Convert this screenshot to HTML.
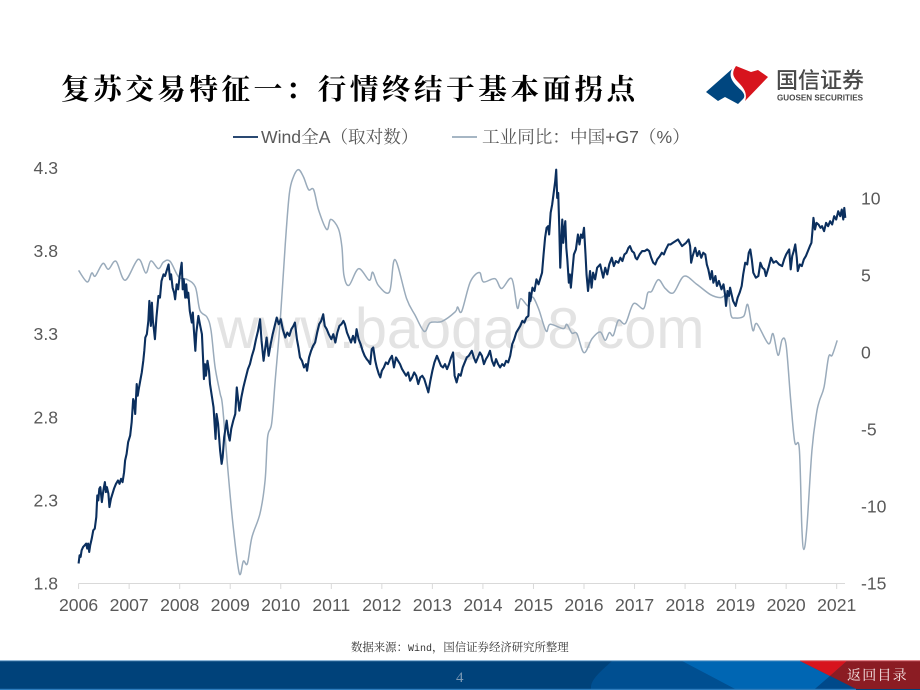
<!DOCTYPE html>
<html lang="zh-CN">
<head>
<meta charset="utf-8">
<title>复苏交易特征一：行情终结于基本面拐点</title>
<style>
html,body{margin:0;padding:0;background:#fff;}
#slide{position:relative;width:920px;height:690px;overflow:hidden;background:#fff;font-family:"Liberation Sans","Noto Serif CJK SC",serif;}
#slide>*{position:absolute;}
.title{left:61px;top:68px;font:700 28.6px/40px "Noto Serif CJK SC",serif;letter-spacing:3.5px;color:#000;white-space:nowrap;}
.source{left:351px;top:639px;font:11.4px/16px "Noto Serif CJK SC",serif;color:#333;white-space:nowrap;}
.source span{font:10px/16px "Liberation Mono",monospace;}
.page{left:456px;top:669px;font:15px/18px "Liberation Serif",serif;color:#7d9ab5;}
.back{left:847px;top:665px;font:14px/20px "Noto Serif CJK SC",serif;letter-spacing:1.2px;color:#f6e9e9;white-space:nowrap;}
</style>
</head>
<body>
<div id="slide">
  <div class="title">复苏交易特征一：行情终结于基本面拐点</div>

  <svg style="left:0;top:0" width="920" height="690">
    <path d="M706 92L732 69C728 77 733 83 741 90C745 94 745 97 743 99L738 104L725 97L718 101Z" fill="#00467f"/>
    <path d="M736 66L751 72L758 70L768 77L745 101C748 93 743 87 738 82C732 76 732 72 736 66Z" fill="#d7141d"/>
    <text x="776" y="88" font-family="'Noto Sans CJK SC',sans-serif" font-size="22" font-weight="500" fill="#4a4a4a">国信证券</text>
    <text x="777" y="100.5" font-family="'Liberation Sans',sans-serif" font-size="8.1" font-weight="700" fill="#4a4a4a" textLength="86">GUOSEN SECURITIES</text>
  </svg>

  <svg id="chart" style="left:0;top:0" width="920" height="690"></svg>

  <div class="source">数据来源：<span>Wind</span>，国信证券经济研究所整理</div>

  <svg style="left:0;top:660px" width="920" height="30">
    <rect x="0" y="0" width="920" height="30" fill="#00427a"/>
    <path d="M612 1C600 12 590 20 591 29L735 29L682 1Z" fill="#004f91"/>
    <path d="M682 1L800 1L830 16L815 29L735 29Z" fill="#0066b3"/>
    <path d="M800 1L847 1L830 16Z" fill="#d7141d"/>
    <path d="M847 1L920 1L920 29L856 29L830 16Z" fill="#8b1c23"/>
    <path d="M830 16L815 29L856 29Z" fill="#00498a"/>
    <rect x="0" y="0" width="800" height="1.2" fill="#8fb7d8"/>
    <rect x="800" y="0" width="120" height="1.2" fill="#e2868b"/>
    <rect x="0" y="28.8" width="856" height="1.2" fill="#2f7dbd"/>
  </svg>
  <div class="page">4</div>
  <div class="back">返回目录</div>
</div>

<script>
const yearLabels = [2006,2007,2008,2009,2010,2011,2012,2013,2014,2015,2016,2017,2018,2019,2020,2021];
const leftTicks = [1.8,2.3,2.8,3.3,3.8,4.3];
const rightTicks = [-15,-10,-5,0,5,10];
const seriesNames = ["Wind全A（取对数）","工业同比：中国+G7（%）"];

// Wind All-A (log): time in years since Jan 2006
const windTime = [
0,.02,.04,.06,.09,.12,.15,.17,.19,.21,
.23,.26,.29,.32,.35,.37,.39,.41,.43,.46,
.49,.52,.54,.56,.59,.61,.64,.66,.70,.74,
.78,.81,.84,.87,.90,.92,.95,.98,1.02,1.05,
1.08,1.10,1.12,1.15,1.17,1.19,1.22,1.25,1.28,1.30,
1.32,1.35,1.38,1.40,1.43,1.45,1.47,1.49,1.51,1.54,
1.58,1.61,1.64,1.68,1.71,1.74,1.78,1.81,1.83,1.86,
1.89,1.91,1.94,1.97,2.00,2.04,2.06,2.08,2.11,2.13,
2.15,2.17,2.20,2.24,2.26,2.28,2.31,2.33,2.37,2.40,
2.44,2.46,2.48,2.50,2.52,2.55,2.58,2.60,2.64,2.67,
2.71,2.73,2.76,2.80,2.83,2.85,2.88,2.93,2.96,2.99,
3.02,3.06,3.10,3.13,3.18,3.22,3.26,3.30,3.35,3.39,
3.43,3.47,3.51,3.55,3.59,3.62,3.66,3.69,3.72,3.76,
3.80,3.84,3.88,3.92,3.96,4.00,4.04,4.09,4.13,4.17,
4.21,4.25,4.28,4.32,4.35,4.38,4.42,4.46,4.50,4.52,
4.56,4.60,4.64,4.68,4.72,4.76,4.80,4.84,4.87,4.91,
4.95,5.00,5.04,5.08,5.12,5.16,5.20,5.24,5.27,5.31,
5.35,5.39,5.43,5.47,5.50,5.54,5.58,5.62,5.66,5.70,
5.73,5.77,5.80,5.83,5.87,5.90,5.94,5.97,6.00,6.04,
6.08,6.12,6.16,6.20,6.24,6.28,6.32,6.36,6.40,6.44,
6.48,6.52,6.56,6.60,6.64,6.68,6.72,6.76,6.80,6.84,
6.88,6.92,6.96,7.00,7.04,7.09,7.13,7.17,7.21,7.25,
7.29,7.33,7.37,7.41,7.44,7.48,7.52,7.56,7.60,7.64,
7.68,7.72,7.78,7.82,7.86,7.90,7.94,7.98,8.02,8.06,
8.10,8.14,8.18,8.22,8.26,8.30,8.34,8.38,8.42,8.46,
8.50,8.54,8.58,8.62,8.66,8.70,8.74,8.78,8.82,8.86,
8.90,8.92,8.94,8.98,9.02,9.06,9.10,9.14,9.17,9.20,
9.23,9.26,9.29,9.31,9.34,9.37,9.40,9.43,9.45,9.47,
9.49,9.51,9.53,9.55,9.57,9.59,9.61,9.63,9.65,9.67,
9.70,9.72,9.74,9.77,9.80,9.84,9.88,9.91,9.94,9.97,
10.0,10.03,10.05,10.08,10.12,10.15,10.18,10.22,10.26,10.32,
10.38,10.42,10.46,10.50,10.55,10.59,10.63,10.68,10.72,10.76,
10.80,10.84,10.88,10.91,10.95,10.99,11.02,11.05,11.10,11.15,
11.20,11.25,11.29,11.33,11.37,11.41,11.45,11.50,11.54,11.58,
11.62,11.67,11.71,11.76,11.81,11.86,11.90,11.94,11.98,12.02,
12.07,12.10,12.12,12.15,12.20,12.24,12.28,12.32,12.36,12.40,
12.43,12.46,12.50,12.53,12.56,12.60,12.63,12.67,12.72,12.76,
12.79,12.81,12.84,12.87,12.89,12.92,12.95,13.00,13.04,13.08,
13.12,13.15,13.19,13.23,13.26,13.29,13.32,13.35,13.40,13.45,
13.49,13.53,13.57,13.60,13.65,13.70,13.75,13.80,13.86,13.92,
13.96,14.00,14.04,14.06,14.09,14.12,14.15,14.18,14.21,14.23,
14.27,14.31,14.35,14.39,14.43,14.47,14.50,14.52,14.54,14.57,
14.60,14.64,14.68,14.71,14.75,14.79,14.83,14.87,14.91,14.95,
14.99,15.03,15.07,15.10,15.13,15.15,15.17];

const windValues = [
1.92,1.97,1.96,2.00,2.02,2.03,2.04,2.01,2.04,1.99,
2.03,2.07,2.12,2.13,2.20,2.33,2.30,2.37,2.38,2.29,
2.36,2.41,2.35,2.38,2.34,2.26,2.31,2.33,2.37,2.40,
2.42,2.40,2.43,2.41,2.47,2.54,2.58,2.65,2.69,2.77,
2.91,2.89,2.82,3.00,2.93,2.97,3.02,3.07,3.14,3.20,
3.28,3.30,3.38,3.50,3.35,3.49,3.38,3.33,3.27,3.40,
3.53,3.52,3.62,3.66,3.65,3.68,3.72,3.63,3.66,3.58,
3.55,3.51,3.60,3.57,3.65,3.73,3.57,3.63,3.52,3.60,
3.52,3.55,3.44,3.37,3.43,3.33,3.20,3.31,3.41,3.36,
3.30,3.17,3.03,3.12,3.05,3.14,3.08,3.00,2.92,2.86,
2.67,2.82,2.76,2.60,2.52,2.56,2.68,2.78,2.70,2.66,
2.73,2.78,2.82,2.98,2.84,2.92,2.98,3.03,3.09,3.12,
3.17,3.21,3.27,3.32,3.39,3.26,3.14,3.21,3.28,3.17,
3.24,3.30,3.35,3.40,3.36,3.39,3.33,3.28,3.31,3.29,
3.33,3.35,3.37,3.27,3.22,3.16,3.14,3.10,3.12,3.08,
3.16,3.20,3.23,3.25,3.31,3.36,3.38,3.42,3.35,3.33,
3.30,3.27,3.30,3.25,3.31,3.35,3.36,3.38,3.36,3.31,
3.28,3.25,3.29,3.25,3.33,3.27,3.24,3.20,3.17,3.15,
3.14,3.12,3.21,3.22,3.14,3.10,3.06,3.04,3.08,3.10,
3.13,3.12,3.15,3.17,3.10,3.16,3.14,3.12,3.09,3.07,
3.05,3.07,3.02,3.04,3.07,3.05,3.00,3.04,3.05,3.03,
2.99,2.95,3.02,3.08,3.13,3.17,3.14,3.11,3.10,3.12,
3.09,3.12,3.16,3.19,3.05,3.01,3.06,3.05,3.10,3.13,
3.16,3.17,3.20,3.16,3.13,3.16,3.19,3.17,3.12,3.15,
3.17,3.20,3.14,3.11,3.15,3.12,3.10,3.12,3.11,3.14,
3.13,3.17,3.24,3.27,3.31,3.33,3.35,3.38,3.37,3.40,
3.41,3.55,3.50,3.58,3.56,3.63,3.60,3.64,3.67,3.78,
3.88,3.94,3.95,3.90,4.03,4.08,4.15,4.22,4.29,4.12,
4.15,3.95,3.70,3.85,3.99,3.85,3.93,3.98,3.82,3.75,
3.61,3.66,3.58,3.68,3.78,3.81,3.90,3.84,3.90,3.88,
3.94,3.78,3.66,3.56,3.68,3.58,3.67,3.63,3.70,3.72,
3.64,3.70,3.66,3.72,3.76,3.71,3.74,3.73,3.76,3.74,
3.78,3.79,3.82,3.83,3.80,3.79,3.76,3.75,3.78,3.80,
3.80,3.81,3.80,3.76,3.73,3.72,3.75,3.77,3.79,3.78,
3.81,3.84,3.84,3.85,3.86,3.87,3.85,3.83,3.84,3.85,
3.87,3.83,3.73,3.77,3.82,3.77,3.80,3.76,3.79,3.78,
3.72,3.69,3.63,3.68,3.61,3.65,3.59,3.62,3.57,3.60,
3.54,3.47,3.56,3.53,3.58,3.54,3.50,3.47,3.52,3.55,
3.59,3.66,3.73,3.72,3.79,3.81,3.75,3.67,3.64,3.65,
3.73,3.70,3.69,3.65,3.70,3.76,3.73,3.74,3.72,3.71,
3.75,3.78,3.80,3.81,3.69,3.77,3.80,3.84,3.76,3.68,
3.72,3.71,3.75,3.77,3.80,3.83,3.85,3.92,4.00,3.93,
3.97,3.96,3.94,3.95,3.92,3.97,3.95,3.98,3.96,4.01,
3.99,4.04,4.01,4.05,3.99,4.06,4.00];

// Industrial production YoY, China + G7: time in years since Jan 2006
const industryTime = [
0,.17,.26,.33,.48,.59,.74,.92,1.18,1.33,
1.43,1.58,1.68,1.81,1.98,2.14,2.31,2.40,2.54,2.62,
2.70,2.80,2.85,2.96,3.06,3.18,3.26,3.34,3.43,3.59,
3.69,3.74,3.82,3.89,3.99,4.09,4.17,4.25,4.35,4.45,
4.55,4.65,4.75,4.91,4.99,5.14,5.21,5.25,5.35,5.54,
5.75,5.82,5.93,6.15,6.26,6.49,6.66,6.84,6.96,7.19,
7.45,7.50,7.58,7.75,7.93,8.01,8.24,8.37,8.57,8.68,
8.75,8.90,8.98,9.10,9.25,9.33,9.59,9.66,9.76,9.86,
10.0,10.16,10.32,10.42,10.50,10.58,10.68,10.82,10.98,11.18,
11.26,11.34,11.47,11.61,11.77,11.98,12.23,12.50,12.70,12.85,
12.91,12.99,13.16,13.24,13.34,13.42,13.65,13.74,13.84,13.92,
14.0,14.09,14.17,14.26,14.31,14.35,14.41,14.51,14.60,14.66,
14.75,14.84,14.91,15.01];

const industryValues = [
5.32,4.57,5.15,4.95,5.77,5.39,5.91,4.68,6.04,5.15,
5.93,5.43,5.86,5.91,4.89,4.74,4.24,2.73,2.29,1.43,
-0.95,-2.66,-3.55,-7.86,-11.34,-14.35,-13.55,-13.70,-11.99,-10.45,
-8.31,-5.50,-4.61,-1.82,2.08,7.06,10.30,11.38,11.86,11.38,
10.56,10.56,9.22,7.97,8.63,8.03,6.84,5.00,4.35,5.43,
4.68,5.20,4.35,3.92,6.02,3.49,2.40,1.36,1.93,2.01,
2.62,2.94,2.66,4.57,5.18,4.57,4.78,4.14,4.78,2.88,
3.49,3.00,3.59,2.84,1.38,1.82,1.54,1.82,1.25,1.21,
-0.02,0.89,1.32,0.78,1.28,1.10,2.08,1.88,3.16,2.84,
3.85,3.96,4.72,4.14,3.87,4.94,4.42,3.75,3.55,3.70,
2.40,2.23,2.34,3.10,1.43,1.86,0.56,1.21,-0.19,0.82,
0.45,-3.12,-5.82,-6.26,-11.34,-12.79,-11.34,-6.36,-3.98,-3.12,
-2.25,-0.30,-0.19,0.78];

const NS = 'http://www.w3.org/2000/svg';
const svg = document.getElementById('chart');

function xScale(t){ return 78.6 + t * 50.54; }
function yLeft(v){ return 583.5 - (v - 1.8) * 166.2; }
function yRight(v){ return 583.5 - (v + 15) * 15.41; }

function make(tag, attrs, parent){
  const el = document.createElementNS(NS, tag);
  for (const k in attrs) el.setAttribute(k, attrs[k]);
  (parent || svg).appendChild(el);
  return el;
}
const LATIN = '"Liberation Sans",sans-serif';
const CJK = '"Noto Serif CJK SC",serif';
const INK = '#595959';

// watermark
const wm = make('text', {x:217, y:348, 'font-family':LATIN, 'font-size':57.7, fill:'#e3e3e3'});


wm.textContent = 'www.baogao8.com';

// x axis
const axisLine = make('line', {x1:78.6, x2:845, y1:583.5, y2:583.5, stroke:'#d9d9d9', 'stroke-width':1});


yearLabels.forEach(function(year){
  const px = xScale(year - yearLabels[0]);
  const tick = make('line', {x1:px, x2:px, y1:583.5, y2:589, stroke:'#d9d9d9', 'stroke-width':1});
  
  
  const label = make('text', {x:px, y:611, 'text-anchor':'middle', 'font-family':LATIN, 'font-size':17.6, fill:INK});
  
  
  label.textContent = year;
});

// y axes
leftTicks.forEach(function(v){
  const label = make('text', {x:58, y:yLeft(v) + 6, 'text-anchor':'end', 'font-family':LATIN, 'font-size':17.6, fill:INK});
  
  
  label.textContent = v.toFixed(1);
});
rightTicks.forEach(function(v){
  const label = make('text', {x:861, y:yRight(v) + 6, 'font-family':LATIN, 'font-size':17.6, fill:INK});
  
  
  label.textContent = v;
});

// smooth curve through the industry points (Catmull-Rom)
function smoothPath(pts){
  let d = 'M' + pts[0][0].toFixed(2) + ' ' + pts[0][1].toFixed(2);
  for (let i = 0; i < pts.length - 1; i++){
    const p0 = pts[Math.max(i - 1, 0)], p1 = pts[i], p2 = pts[i + 1], p3 = pts[Math.min(i + 2, pts.length - 1)];
    const c1x = p1[0] + (p2[0] - p0[0]) / 6, c1y = p1[1] + (p2[1] - p0[1]) / 6;
    const c2x = p2[0] - (p3[0] - p1[0]) / 6, c2y = p2[1] - (p3[1] - p1[1]) / 6;
    d += 'C' + c1x.toFixed(2) + ' ' + c1y.toFixed(2) + ' ' + c2x.toFixed(2) + ' ' + c2y.toFixed(2) + ' ' + p2[0].toFixed(2) + ' ' + p2[1].toFixed(2);
  }
  return d;
}

const industryPts = industryTime.map(function(t, i){ return [xScale(t), yRight(industryValues[i])]; });
const industryLine = make('path', {d:smoothPath(industryPts), fill:'none', stroke:'#9aabbb', 'stroke-width':1.5, 'stroke-linejoin':'round'});



const windPts = windTime.map(function(t, i){ return xScale(t).toFixed(2) + ',' + yLeft(windValues[i]).toFixed(2); });
const windLine = make('polyline', {points:windPts.join(' '), fill:'none', stroke:'#0b2f5e', 'stroke-width':2.1, 'stroke-linejoin':'round'});



// legend text: Latin runs in Liberation Sans, CJK runs in the serif family
function fillLegend(textEl, str){
  str.split(/([A-Za-z0-9+%]+)/).forEach(function(part){
    if (!part) return;
    const isLatin = /^[A-Za-z0-9+%]+$/.test(part);
    const span = make('tspan', {'font-family':isLatin ? LATIN : CJK}, textEl);
    span.textContent = part;
  });
}

const windSwatch = make('line', {x1:233, x2:258, y1:137, y2:137, stroke:'#0b2f5e', 'stroke-width':1.7});


const windLegend = make('text', {x:261, y:143, 'font-size':17.6, fill:INK});


fillLegend(windLegend, seriesNames[0]);

const industrySwatch = make('line', {x1:452, x2:477, y1:137, y2:137, stroke:'#9aabbb', 'stroke-width':1.7});


const industryLegend = make('text', {x:482, y:143, 'font-size':17.6, fill:INK});


fillLegend(industryLegend, seriesNames[1]);
</script>
</body>
</html>
